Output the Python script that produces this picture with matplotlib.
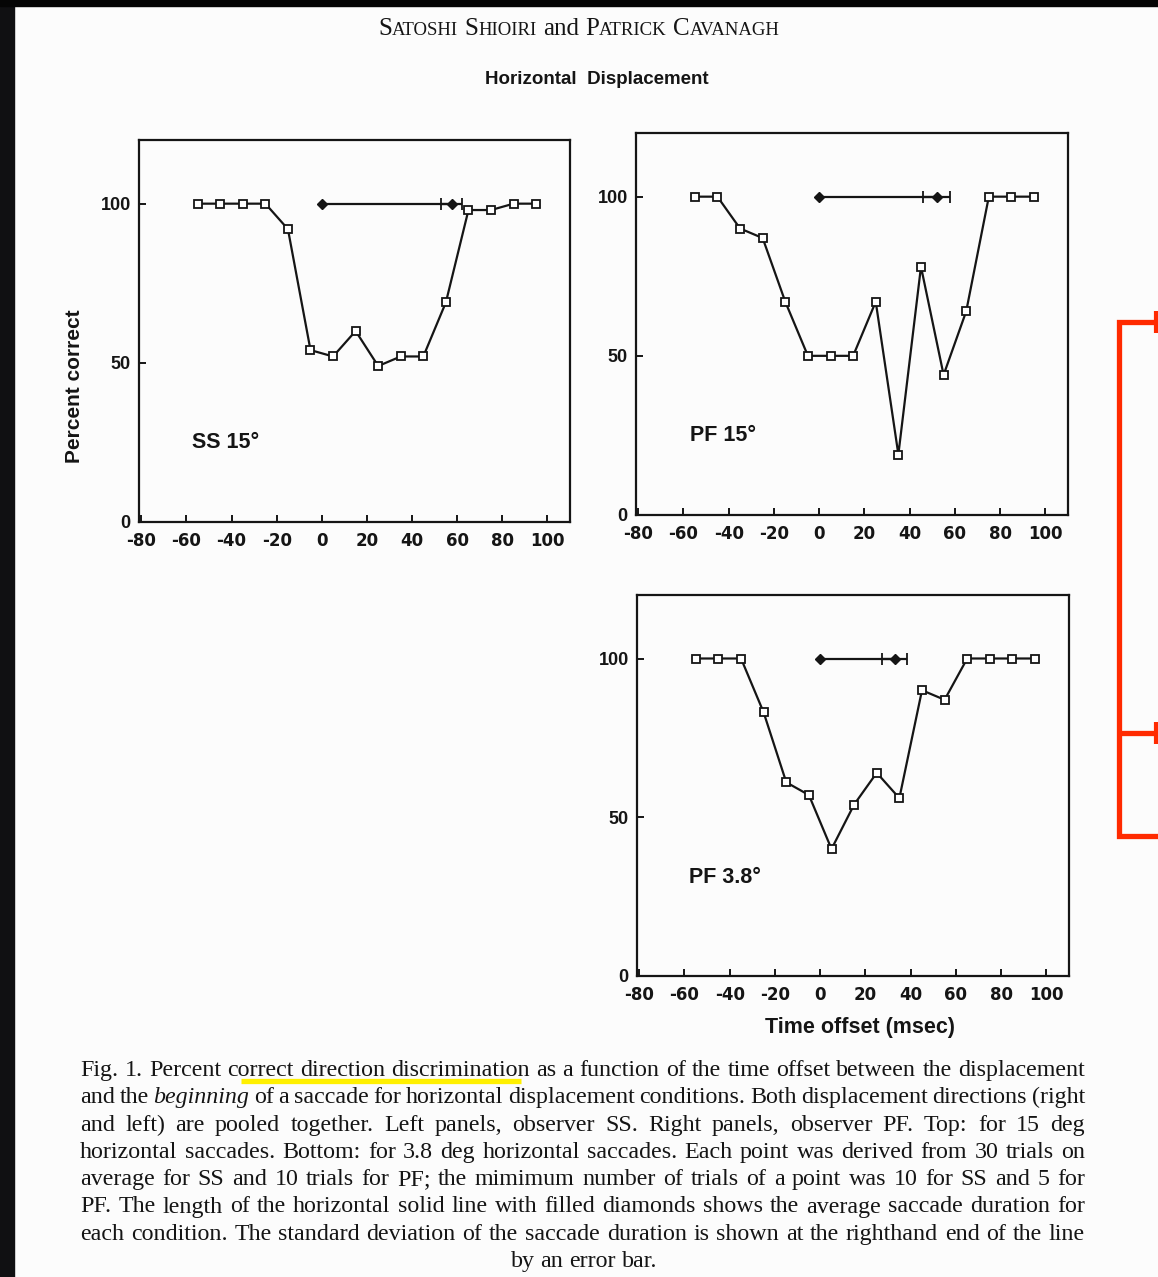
import matplotlib
matplotlib.use('Agg')
import matplotlib.pyplot as plt
from matplotlib.patches import Rectangle

plt.rcParams['axes.unicode_minus'] = False

W, H = 1158, 1277

# time offset between displacement and saccade onset (msec)
offsets = [-55, -45, -35, -25, -15, -5, 5, 15, 25, 35, 45, 55, 65, 75, 85, 95]

# percent correct direction discrimination
ss_15 = [100, 100, 100, 100, 92, 54, 52, 60, 49, 52, 52, 69, 98, 98, 100, 100]
pf_15 = [100, 100, 90, 87, 67, 50, 50, 50, 67, 19, 78, 44, 64, 100, 100, 100]
pf_38 = [100, 100, 100, 83, 61, 57, 40, 54, 64, 56, 90, 87, 100, 100, 100, 100]

panel_names = ['SS 15°', 'PF 15°', 'PF 3.8°']

# saccade duration: mean and standard deviation (msec)
sacc_mean = [57.5, 52, 33]
sacc_sd = [4.8, 6.0, 5.5]

xticks = [-80, -60, -40, -20, 0, 20, 40, 60, 80, 100]
yticks = [0, 50, 100]

caption_lines = [
    "Fig. 1. Percent correct direction discrimination as a function of the time offset between the displacement",
    "and the *beginning* of a saccade for horizontal displacement conditions. Both displacement directions (right",
    "and left) are pooled together. Left panels, observer SS. Right panels, observer PF. Top: for 15 deg",
    "horizontal saccades. Bottom: for 3.8 deg horizontal saccades. Each point was derived from 30 trials on",
    "average for SS and 10 trials for PF; the mimimum number of trials of a point was 10 for SS and 5 for",
    "PF. The length of the horizontal solid line with filled diamonds shows the average saccade duration for",
    "each condition. The standard deviation of the saccade duration is shown at the righthand end of the line",
    "by an error bar.",
]

INK = '#151515'

fig = plt.figure(figsize=(W / 100, H / 100), dpi=100, facecolor='#fcfcfc')
renderer = fig.canvas.get_renderer()

# page-level layer in pixel units
deco = fig.add_axes([0, 0, 1, 1])
deco.set_xlim(0, W)
deco.set_ylim(H, 0)
deco.axis('off')


def place_words(words, y, x0, x1, family, center=None):
    """Lay out words (lists of (text, size, style) pieces) justified between x0 and x1."""
    arts, widths = [], []
    for w in words:
        parts, total = [], 0
        for s, size, st in w:
            t = deco.text(0, y, s, fontsize=size, style=st, family=family,
                          color=INK, va='baseline', ha='left')
            bw = t.get_window_extent(renderer).width
            parts.append((t, bw))
            total += bw
        arts.append(parts)
        widths.append(total)
    if center is None:
        gap = (x1 - x0 - sum(widths)) / max(len(words) - 1, 1)
        x = x0
    else:
        gap = words[0][0][1] * 1.389 * 0.25
        x = center - (sum(widths) + gap * (len(words) - 1)) / 2
    for parts in arts:
        for t, bw in parts:
            t.set_x(x)
            x += bw
        x += gap


# running head in small capitals
big, small = 18, 13.5
head = [[('S', big, 'normal'), ('ATOSHI', small, 'normal')],
        [('S', big, 'normal'), ('HIOIRI', small, 'normal')],
        [('and', big, 'normal')],
        [('P', big, 'normal'), ('ATRICK', small, 'normal')],
        [('C', big, 'normal'), ('AVANAGH', small, 'normal')]]
place_words(head, 35, 378, 780, 'Liberation Serif', center=579)

deco.text(597, 79, 'Horizontal  Displacement', fontsize=13.5, weight='bold',
          family='Liberation Sans', color=INK, ha='center', va='center')

# caption
cap_size = 17.3
for i, line in enumerate(caption_lines):
    words = []
    for w in line.split(' '):
        if w.startswith('*'):
            words.append([(w.strip('*'), cap_size, 'italic')])
        else:
            words.append([(w, cap_size, 'normal')])
    y = 1076 + 27.3 * i
    if i == len(caption_lines) - 1:
        place_words(words, y, 80, 1085, 'Liberation Serif', center=584)
    else:
        place_words(words, y, 80, 1085, 'Liberation Serif')

# highlighter underline and red bracket
deco.plot([241, 521], [1081, 1081], color='#fff000', lw=3.8, solid_capstyle='butt')
red = '#ff2a00'
deco.plot([1158, 1119, 1119, 1158], [322, 322, 836, 836], color=red, lw=3.8,
          solid_joinstyle='miter', solid_capstyle='butt')
deco.plot([1119, 1158], [733, 733], color=red, lw=3.8, solid_capstyle='butt')
for yy in (322, 733):
    deco.plot([1156, 1156], [yy - 11, yy + 11], color=red, lw=3, solid_capstyle='butt')

# dark slide border
deco.text(3, 38, '8', fontsize=16, family='Liberation Serif', color=INK)
deco.add_patch(Rectangle((0, 0), 14, H, color='#101012', zorder=5))
deco.add_patch(Rectangle((0, 0), W, 6, color='#050505', zorder=5))

# panels: (left, top, right, bottom) in pixels
boxes = [(139, 140, 570, 522), (636, 133, 1068, 515), (637, 595, 1069, 976)]
series = [ss_15, pf_15, pf_38]
name_pos = [(-57.5, 25), (-57, 25), (-58, 31)]

axes = []
for k, (l, t, r, b) in enumerate(boxes):
    ax = fig.add_axes([l / W, 1 - b / H, (r - l) / W, (b - t) / H])
    ax.set_facecolor('none')
    ax.set_xlim(-81, 110)
    ax.set_ylim(0, 120)
    for sp in ax.spines.values():
        sp.set_linewidth(1.6)
        sp.set_color(INK)

    ax.plot(offsets, series[k], color=INK, lw=1.6, marker='s', ms=6,
            mfc='white', mec=INK, mew=1.3, zorder=3)

    m, sd = sacc_mean[k], sacc_sd[k]
    ax.plot([0, m], [100, 100], color=INK, lw=1.6, marker='D', ms=5.5,
            mfc=INK, mec=INK, zorder=3)
    ax.errorbar(m, 100, xerr=sd, fmt='none', ecolor=INK, elinewidth=1.6,
                capsize=4.5, capthick=1.3, zorder=3)

    ax.set_xticks(xticks)
    ax.set_yticks(yticks)
    ax.tick_params(direction='in', length=5, width=1.4, color=INK,
                   top=False, right=False)
    ax.tick_params(axis='x', pad=7)
    ax.tick_params(axis='y', pad=6)
    for lab in ax.get_xticklabels():
        lab.set_fontfamily('DejaVu Sans')
        lab.set_fontweight('bold')
        lab.set_fontsize(12)
        lab.set_color(INK)
    for lab in ax.get_yticklabels():
        lab.set_fontfamily('Liberation Sans')
        lab.set_fontweight('bold')
        lab.set_fontsize(13)
        lab.set_color(INK)

    nx, ny = name_pos[k]
    ax.text(nx, ny, panel_names[k], fontsize=15.5, weight='bold',
            family='Liberation Sans', color=INK, va='center')
    axes.append(ax)

axes[0].set_ylabel('Percent correct', fontsize=15, weight='bold',
                   family='Liberation Sans', color=INK)
axes[0].yaxis.set_label_coords(-0.127, 0.356)
axes[2].set_xlabel('Time offset (msec)', fontsize=15.5, weight='bold',
                   family='Liberation Sans', color=INK)
axes[2].xaxis.set_label_coords(0.516, -0.108)

fig.savefig('out.png', dpi=100, facecolor=fig.get_facecolor())
